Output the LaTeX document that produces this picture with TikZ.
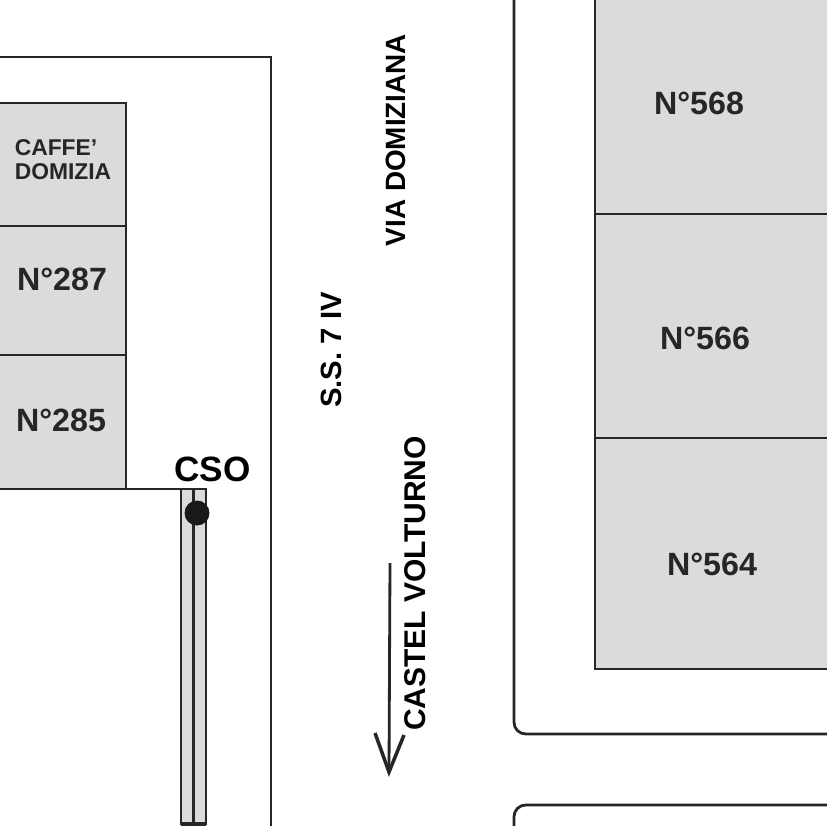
\documentclass[tikz,border=0pt]{standalone}
\usepackage{fontspec}
\setmainfont{Liberation Sans}
\tikzset{
    lot/.style={draw=black!85, line width=2.4pt, fill=black!14},
    road/.style={draw=black!85, line width=2.4pt},
    lotlabel/.style={font=\fontsize{27.5}{27.5}\selectfont\bfseries, text=black!85},
    roadlabel/.style={font=\fontsize{#1}{#1}\selectfont\bfseries, rotate=90, inner sep=0pt}
}
\begin{document}
\begin{tikzpicture}[x=0.03cm, y=-0.03cm]
    \useasboundingbox (0,0) rectangle (826,826);

    % Road edges
    \draw[road] (-5,57) -- (271,57) -- (271,830);
    \draw[road, rounded corners=10] (514,-5) -- (514,734) -- (830,734);
    \draw[road, rounded corners=10] (830,805) -- (514,805) -- (514,830);

    % Left lots
    \draw[lot] (-5,103) rectangle (126,226);
    \draw[lot] (-5,226) rectangle (126,355);
    \draw[lot] (-5,355) rectangle (126,489);
    \draw[road] (126,489) -- (181,489);

    % Right lots
    \draw[lot] (595,-5) rectangle (830,214);
    \draw[lot] (595,214) rectangle (830,438);
    \draw[lot] (595,438) rectangle (830,669);

    % Strip
    \draw[lot] (181,489) rectangle (206,824);
    \draw[road] (193.5,489) -- (193.5,824);
    \draw[road, line width=4pt] (181,824) -- (206,824);
    \fill[black!90] (197,513) circle (12.5);

    % Lot labels
    \node[lotlabel] (lot568) at (699,103) {N°568};
    \node[lotlabel] (lot566) at (705,338) {N°566};
    \node[lotlabel] (lot564) at (712,564) {N°564};
    \node[lotlabel] (lot287) at (62,279) {N°287};
    \node[lotlabel] (lot285) at (61,420) {N°285};
    \node[font=\fontsize{19.5}{20.5}\selectfont\bfseries, text=black!85, align=left] (caffe) at (63,160) {CAFFE\symbol{39}\\DOMIZIA};
    \node[font=\fontsize{30}{30}\selectfont\bfseries] (cso) at (212.5,469) {CSO};

    % Road labels
    \node[roadlabel=23.8] (domiziana) at (396,140) {VIA DOMIZIANA};
    \node[roadlabel=25] (ss) at (331,350) {S.S. 7 IV};
    \node[roadlabel=25.6] (volturno) at (415,583.5) {CASTEL VOLTURNO};

    % Direction arrow
    \coordinate (arrowtop) at (390,563);
    \coordinate (arrowtip) at (389,772);
    \draw[road] (arrowtop) -- (arrowtip);
    \draw[road, line width=3pt] (375,733) -- (arrowtip) -- (404,735);
\end{tikzpicture}
\end{document}
